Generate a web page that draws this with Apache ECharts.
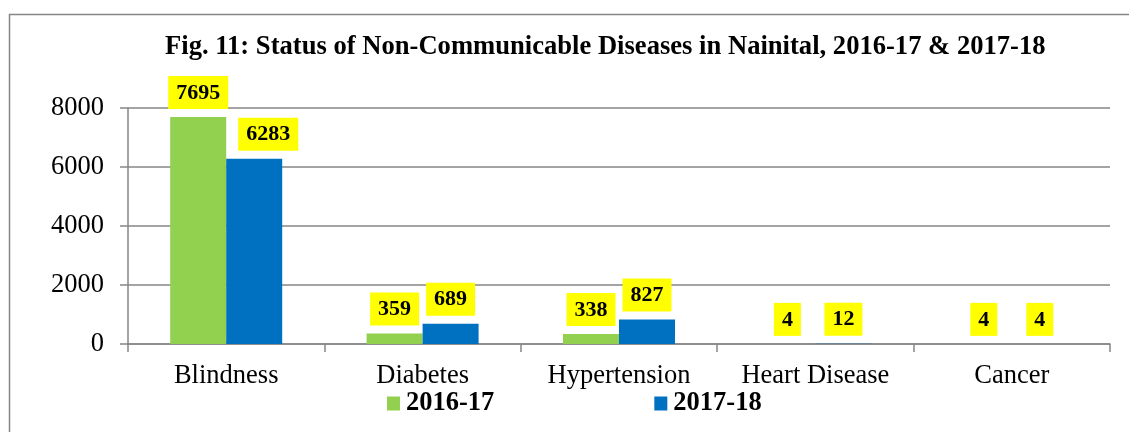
<!DOCTYPE html>
<html>
<head>
<meta charset="utf-8">
<script src="https://cdn.jsdelivr.net/npm/echarts@6/dist/echarts.min.js"></script>
<style>
  html, body { margin: 0; padding: 0; background: #fff; }
  #chart { width: 1129px; height: 432px; }
</style>
</head>
<body>
<div id="chart"></div>
<script>
const categories = ['Blindness', 'Diabetes', 'Hypertension', 'Heart Disease', 'Cancer']
const values2016 = [7695, 359, 338, 4, 4]
const values2017 = [6283, 689, 827, 12, 4]
const seriesNames = ['2016-17', '2017-18']
const yTicks = [0, 2000, 4000, 6000, 8000]

const serif = '"Liberation Serif", "Times New Roman", serif'

const valueLabel = {
  show: true,
  position: 'top',
  distance: 8,
  backgroundColor: '#ffff00',
  padding: [6, 8, 5, 8],
  color: '#000',
  fontFamily: serif,
  fontWeight: 'bold',
  fontSize: 22,
}

const chart = echarts.init(document.getElementById('chart'))
chart.setOption({
  animation: false,
  title: {
    text: 'Fig. 11: Status of Non-Communicable Diseases in Nainital, 2016-17 & 2017-18',
    left: 160,
    top: 29,
    textStyle: { fontFamily: serif, fontWeight: 'bold', fontSize: 26.6, color: '#000' },
  },
  graphic: [
    {
      type: 'rect',
      shape: { x: 9.5, y: 14.5, width: 1200, height: 500 },
      style: { fill: 'none', stroke: '#868686', lineWidth: 1.5 },
      silent: true,
    },
  ],
  legend: {
    left: 382,
    top: 385,
    itemWidth: 13,
    itemHeight: 14,
    itemGap: 160,
    icon: 'rect',
    data: seriesNames,
    textStyle: { fontFamily: serif, fontWeight: 'bold', fontSize: 26.5, color: '#000', padding: [0, 0, 0, 1] },
  },
  grid: { left: 128, right: 19, top: 108, bottom: 88 },
  xAxis: {
    type: 'category',
    data: categories,
    axisLine: { lineStyle: { color: '#868686', width: 1.5 } },
    axisTick: { show: true, length: 8, lineStyle: { color: '#868686', width: 1.5 } },
    axisLabel: { fontFamily: serif, fontSize: 26.5, color: '#000', margin: 19 },
  },
  yAxis: {
    type: 'value',
    min: yTicks[0],
    max: yTicks[yTicks.length - 1],
    interval: 2000,
    axisLine: { show: true, lineStyle: { color: '#868686', width: 1.5 } },
    axisTick: { show: true, length: 8, lineStyle: { color: '#868686', width: 1.5 } },
    axisLabel: { fontFamily: serif, fontSize: 26.5, color: '#000', margin: 24, formatter: (v) => String(v) },
    splitLine: { lineStyle: { color: '#868686', width: 1.5 } },
  },
  series: [
    {
      name: seriesNames[0],
      type: 'bar',
      barWidth: 56,
      barGap: '0%',
      itemStyle: { color: '#92d050' },
      label: valueLabel,
      data: values2016,
    },
    {
      name: seriesNames[1],
      type: 'bar',
      barWidth: 56,
      barGap: '0%',
      itemStyle: { color: '#0070c0' },
      label: valueLabel,
      data: values2017.map((v, i) => (i === 0 ? { value: v, label: { offset: [14, 0] } } : v)),
    },
  ],
})
</script>
</body>
</html>
